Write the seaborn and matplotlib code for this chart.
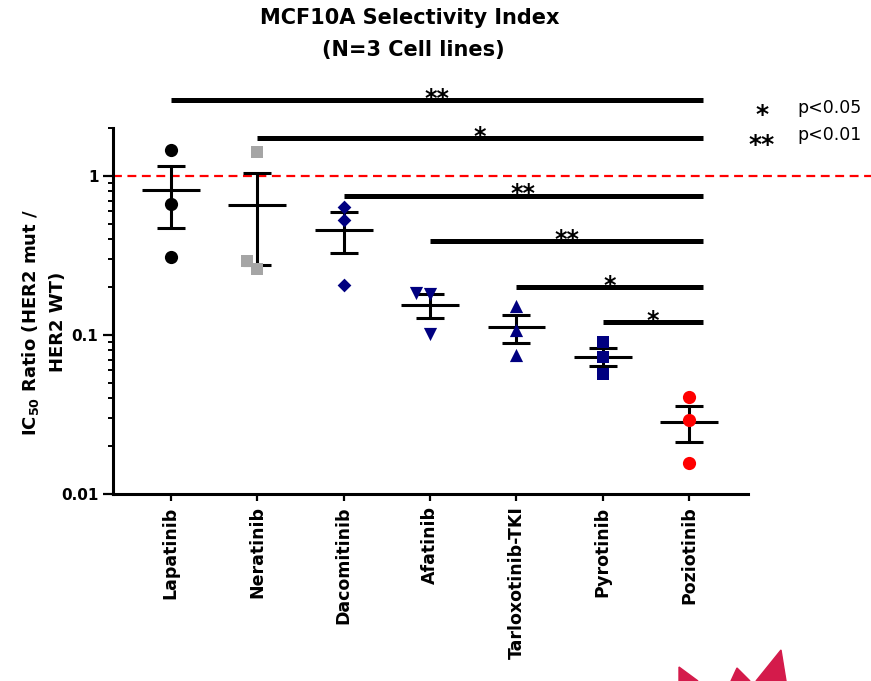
import numpy as np
import pandas as pd
import matplotlib
matplotlib.use('Agg')
import matplotlib.pyplot as plt
from matplotlib.patches import Polygon
import seaborn as sns

# IC50 ratio (HER2 mut / HER2 WT), one value per cell line
drugs = ['Lapatinib', 'Neratinib', 'Dacomitinib', 'Afatinib',
         'Tarloxotinib-TKI', 'Pyrotinib', 'Poziotinib']
lapatinib = [1.45, 0.67, 0.31]
neratinib = [1.42, 0.26, 0.29]
dacomitinib = [0.64, 0.53, 0.205]
afatinib = [0.183, 0.180, 0.101]
tarloxotinib = [0.153, 0.107, 0.075]
pyrotinib = [0.090, 0.073, 0.0565]
poziotinib = [0.041, 0.029, 0.0156]

colors = ['black', '#a5a5a5', '#000080', '#000080', '#000080', '#000080', '#ff0000']
markers = ['o', 's', 'D', 'v', '^', 's', 'o']
msizes = [9.5, 9, 7, 9.5, 9.5, 9, 9.5]

# comparisons against Poziotinib
sig_start = ['Lapatinib', 'Neratinib', 'Dacomitinib', 'Afatinib', 'Tarloxotinib-TKI', 'Pyrotinib']
sig_height = [3.0, 1.73, 0.75, 0.39, 0.20, 0.12]
sig_label = ['**', '*', '**', '**', '*', '*']

values = [lapatinib, neratinib, dacomitinib, afatinib, tarloxotinib, pyrotinib, poziotinib]
df = pd.DataFrame({
    'drug': np.repeat(drugs, [len(v) for v in values]),
    'ratio': np.concatenate(values),
})

sns.set_theme(style='ticks')
plt.rcParams['font.family'] = ['DejaVu Sans']
plt.rcParams['font.weight'] = 'bold'
for key in ['text.color', 'axes.labelcolor', 'xtick.color', 'ytick.color', 'axes.edgecolor']:
    plt.rcParams[key] = 'black'

fig = plt.figure(figsize=(8.71, 6.81), dpi=100)
ax = fig.add_axes([0.1297, 0.2746, 0.7291, 0.5374])
ax.set_yscale('log')
ax.set_ylim(0.01, 2)

for d, c, m, s in zip(drugs, colors, markers, msizes):
    sns.swarmplot(data=df[df['drug'] == d], x='drug', y='ratio', order=drugs,
                  color=c, marker=m, size=s, linewidth=0, ax=ax, zorder=3)

# mean +/- SEM
stats = df.groupby('drug', sort=False)['ratio'].agg(['mean', 'sem']).reindex(drugs)
xpos = np.arange(len(drugs))
ax.errorbar(xpos, stats['mean'], yerr=stats['sem'], fmt='none', ecolor='black',
            elinewidth=2.2, capsize=10.4, capthick=2.2, zorder=2)
ax.hlines(stats['mean'], xpos - 0.335, xpos + 0.335, color='black', lw=2.2, zorder=2)

ax.set_xlim(-0.67, 6.68)

# reference line at ratio = 1, runs to the figure edge
ax.plot([-0.67, 8.2], [1, 1], color='red', lw=1.6, dashes=(4, 2.5), clip_on=False, zorder=1)

# significance bars
end = len(drugs) - 1 + 0.16
for s, h, lab in zip(sig_start, sig_height, sig_label):
    x0 = drugs.index(s)
    ax.plot([x0, end], [h, h], color='black', lw=3.6, solid_capstyle='butt', clip_on=False)
    ax.annotate(lab, xy=((x0 + end) / 2, h), xytext=(0, -4), textcoords='offset points',
                ha='center', va='baseline', fontsize=17, fontweight='bold',
                annotation_clip=False)

# axes styling
for side in ['top', 'right']:
    ax.spines[side].set_visible(False)
for side in ['left', 'bottom']:
    ax.spines[side].set_linewidth(2.2)
ax.set_yticks([0.01, 0.1, 1])
ax.set_yticklabels(['0.01', '0.1', '1'], fontsize=11, fontweight='bold')
ax.tick_params(axis='y', which='major', length=7, width=1.6, direction='out')
ax.tick_params(axis='y', which='minor', length=3.5, width=1.4, direction='out')
ax.tick_params(axis='x', length=5, width=1.6, direction='out', pad=4)
ax.set_xticks(xpos)
ax.set_xticklabels(drugs, rotation=90, fontsize=12.5, fontweight='bold')
ax.set_xlabel('')
ax.set_ylabel('IC$_{\\mathbf{50}}$ Ratio (HER2 mut /\nHER2 WT)', fontsize=13,
              fontweight='bold', linespacing=1.6)
ax.yaxis.set_label_coords(-0.072, 0.47)

# title
fig.text(0.471, 1 - 18 / 681, 'MCF10A Selectivity Index', ha='center', va='center',
         fontsize=15, fontweight='bold')
fig.text(0.475, 1 - 50 / 681, '(N=3 Cell lines)', ha='center', va='center',
         fontsize=15, fontweight='bold')

# significance key
fig.text(762 / 871, 1 - 115 / 681, '*', ha='center', va='center', fontsize=18, fontweight='bold')
fig.text(762 / 871, 1 - 145 / 681, '**', ha='center', va='center', fontsize=18, fontweight='bold')
fig.text(797 / 871, 1 - 108 / 681, 'p<0.05', ha='left', va='center', fontsize=12.5, fontweight='normal')
fig.text(797 / 871, 1 - 135 / 681, 'p<0.01', ha='left', va='center', fontsize=12.5, fontweight='normal')

# logo fragment in the lower right corner
W, H = 871, 681
for tri in [[(679, 681), (679, 667), (698, 681)],
            [(731, 681), (737, 668), (750, 681)],
            [(756, 681), (781, 650), (786, 681)]]:
    fig.patches.append(Polygon([(x / W, 1 - y / H) for x, y in tri], closed=True,
                               transform=fig.transFigure, color='#d41b4b', zorder=5))

fig.savefig('out.png', dpi=100)
